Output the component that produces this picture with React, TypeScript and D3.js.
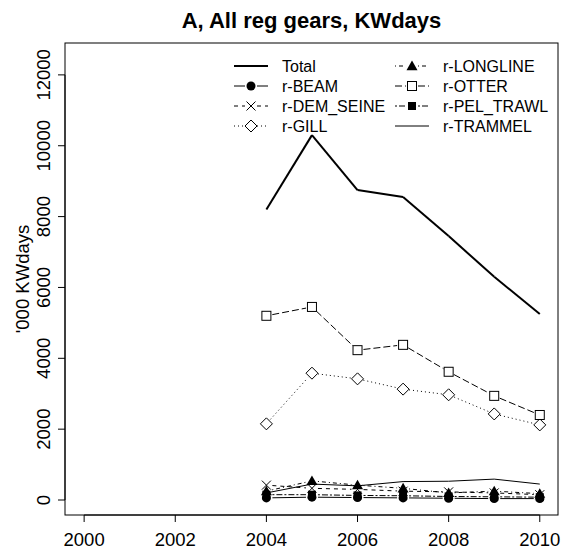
import * as React from "react";
import * as d3 from "d3";

const years = [2004, 2005, 2006, 2007, 2008, 2009, 2010];
const xTicks = [2000, 2002, 2004, 2006, 2008, 2010];
const yTicks = [0, 2000, 4000, 6000, 8000, 10000, 12000];

const total = [8200, 10300, 8750, 8550, 7450, 6300, 5250];
const beam = [60, 80, 70, 60, 50, 40, 40];
const demSeine = [420, 330, 300, 250, 230, 200, 150];
const gill = [2150, 3580, 3420, 3130, 2970, 2430, 2120];
const longline = [250, 540, 420, 330, 200, 250, 180];
const otter = [5200, 5450, 4230, 4380, 3620, 2940, 2400];
const pelTrawl = [150, 150, 130, 120, 100, 90, 80];
const trammel = [200, 450, 400, 520, 530, 590, 450];

const series = [
  { name: "Total", values: total, dash: null, width: 2, pch: null },
  { name: "r-BEAM", values: beam, dash: null, width: 1, pch: "circle" },
  { name: "r-DEM_SEINE", values: demSeine, dash: "4,4", width: 1, pch: "cross" },
  { name: "r-GILL", values: gill, dash: "1,3", width: 1, pch: "diamond" },
  { name: "r-LONGLINE", values: longline, dash: "1,3,4,3", width: 1, pch: "triangle" },
  { name: "r-OTTER", values: otter, dash: "7,3", width: 1, pch: "square" },
  { name: "r-PEL_TRAWL", values: pelTrawl, dash: "2,2,6,2", width: 1, pch: "fsquare" },
  { name: "r-TRAMMEL", values: trammel, dash: null, width: 1, pch: null },
];

function drawMarker(g, pch, cx, cy) {
  if (pch === "circle") {
    g.append("circle").attr("cx", cx).attr("cy", cy).attr("r", 4.5).attr("fill", "#000");
  } else if (pch === "cross") {
    const s = 4.5;
    g.append("path")
      .attr("d", `M${cx - s},${cy - s}L${cx + s},${cy + s}M${cx - s},${cy + s}L${cx + s},${cy - s}`)
      .attr("stroke", "#000")
      .attr("fill", "none");
  } else if (pch === "diamond") {
    const s = 6;
    g.append("path")
      .attr("d", `M${cx},${cy - s}L${cx + s},${cy}L${cx},${cy + s}L${cx - s},${cy}Z`)
      .attr("stroke", "#000")
      .attr("fill", "#fff");
  } else if (pch === "triangle") {
    const s = 5.5;
    g.append("path")
      .attr("d", `M${cx},${cy - s}L${cx + s},${cy + s * 0.75}L${cx - s},${cy + s * 0.75}Z`)
      .attr("fill", "#000");
  } else if (pch === "square") {
    g.append("rect")
      .attr("x", cx - 4.5).attr("y", cy - 4.5).attr("width", 9).attr("height", 9)
      .attr("stroke", "#000").attr("fill", "#fff");
  } else if (pch === "fsquare") {
    g.append("rect")
      .attr("x", cx - 4).attr("y", cy - 4).attr("width", 8).attr("height", 8)
      .attr("fill", "#000");
  }
}

const Chart = () => {
  const svgRef = React.useRef(null);

  React.useEffect(() => {
    const width = 576;
    const height = 554;
    const left = 65, right = 558, top = 43, bottom = 515;

    const svg = d3.select(svgRef.current)
      .attr("width", width)
      .attr("height", height)
      .style("font-family", "'Liberation Sans', Arial, sans-serif");
    svg.selectAll("*").remove();

    const x = d3.scaleLinear().domain([1999.58, 2010.4]).range([left, right]);
    const y = d3.scaleLinear().domain([-423, 12900]).range([bottom, top]);

    // frame
    svg.append("rect")
      .attr("x", left).attr("y", top)
      .attr("width", right - left).attr("height", bottom - top)
      .attr("fill", "none").attr("stroke", "#000");

    // title
    svg.append("text")
      .attr("x", (left + right) / 2).attr("y", 28)
      .attr("text-anchor", "middle")
      .attr("font-weight", "bold")
      .attr("font-size", "22px")
      .text("A, All reg gears, KWdays");

    // x axis
    const xa = svg.append("g");
    xa.append("line")
      .attr("x1", x(2000)).attr("x2", x(2010))
      .attr("y1", bottom).attr("y2", bottom).attr("stroke", "#000");
    xTicks.forEach((t) => {
      xa.append("line").attr("x1", x(t)).attr("x2", x(t))
        .attr("y1", bottom).attr("y2", bottom + 7).attr("stroke", "#000");
      xa.append("text").attr("x", x(t)).attr("y", 546)
        .attr("text-anchor", "middle").attr("font-size", "18.5px").text(t);
    });

    // y axis
    const ya = svg.append("g");
    ya.append("line").attr("x1", left).attr("x2", left)
      .attr("y1", y(0)).attr("y2", y(12000)).attr("stroke", "#000");
    yTicks.forEach((t) => {
      ya.append("line").attr("x1", left - 7).attr("x2", left)
        .attr("y1", y(t)).attr("y2", y(t)).attr("stroke", "#000");
      ya.append("text")
        .attr("transform", `translate(50 ${y(t)}) rotate(-90)`)
        .attr("text-anchor", "middle").attr("font-size", "18.5px").text(t);
    });
    svg.append("text")
      .attr("transform", `translate(29 ${(top + bottom) / 2}) rotate(-90)`)
      .attr("text-anchor", "middle").attr("font-size", "18.5px")
      .text("'000 KWdays");

    // series (type "b": gaps around points)
    const plot = svg.append("g");
    series.forEach((s) => {
      const pts = s.values.map((v, i) => [x(years[i]), y(v)]);
      const gap = s.pch ? 6 : 0;
      for (let i = 0; i < pts.length - 1; i++) {
        const [x1, y1] = pts[i];
        const [x2, y2] = pts[i + 1];
        const len = Math.hypot(x2 - x1, y2 - y1);
        if (len <= 2 * gap) continue;
        const ux = (x2 - x1) / len, uy = (y2 - y1) / len;
        plot.append("line")
          .attr("x1", x1 + ux * gap).attr("y1", y1 + uy * gap)
          .attr("x2", x2 - ux * gap).attr("y2", y2 - uy * gap)
          .attr("stroke", "#000")
          .attr("stroke-width", s.width)
          .attr("stroke-dasharray", s.dash);
      }
      if (s.pch) pts.forEach(([px, py]) => drawMarker(plot, s.pch, px, py));
    });

    // legend
    const lg = svg.append("g");
    series.forEach((s, i) => {
      const col = Math.floor(i / 4);
      const row = i % 4;
      const x0 = col === 0 ? 234 : 395;
      const yy = 66 + row * 20;
      const lineLen = 34;
      if (s.pch) {
        lg.append("line").attr("x1", x0).attr("x2", x0 + lineLen / 2 - 6)
          .attr("y1", yy).attr("y2", yy).attr("stroke", "#000")
          .attr("stroke-dasharray", s.dash);
        lg.append("line").attr("x1", x0 + lineLen / 2 + 6).attr("x2", x0 + lineLen)
          .attr("y1", yy).attr("y2", yy).attr("stroke", "#000")
          .attr("stroke-dasharray", s.dash);
        drawMarker(lg, s.pch, x0 + lineLen / 2, yy);
      } else {
        lg.append("line").attr("x1", x0).attr("x2", x0 + lineLen)
          .attr("y1", yy).attr("y2", yy).attr("stroke", "#000")
          .attr("stroke-width", s.width);
      }
      lg.append("text").attr("x", x0 + 48).attr("y", yy + 6)
        .attr("font-size", "16px").text(s.name);
    });
  }, []);

  return <svg ref={svgRef} style={{ position: "absolute", left: 0, top: 0 }} />;
};

export default function App() {
  return <Chart />;
}
